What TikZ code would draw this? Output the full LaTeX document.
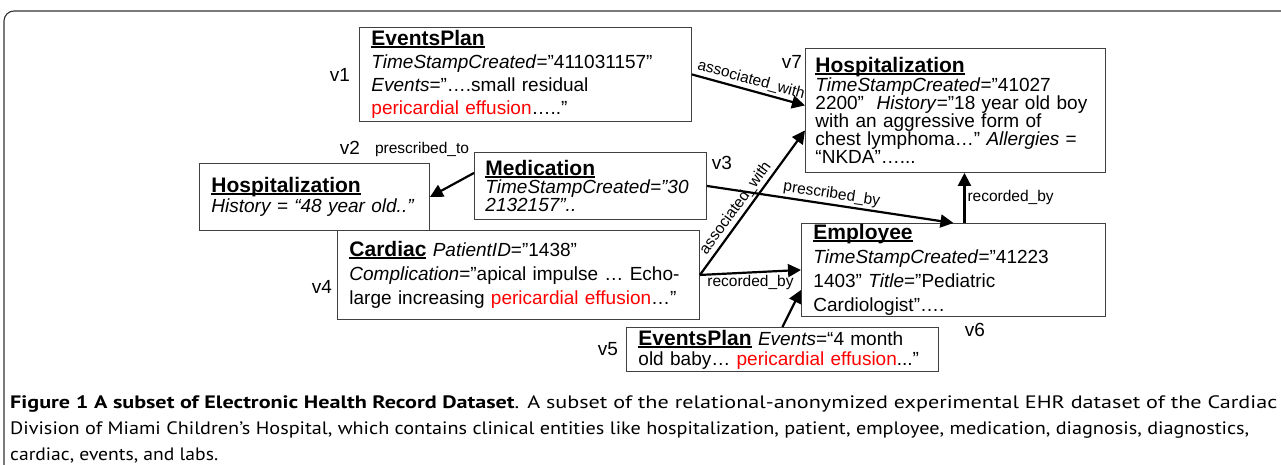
\documentclass[tikz,border=0pt]{standalone}
\usepackage{fontspec}
\usepackage{graphicx}
\setmainfont{Liberation Sans}
\newfontfamily\capfont{PT Sans}
\usetikzlibrary{arrows.meta}
% entity title, bold with a heavy rule under it
\newcommand{\hd}[1]{\setbox0=\hbox{\fontsize{21}{24}\selectfont\bfseries #1}\rlap{\rule[-2.6pt]{\wd0}{1.8pt}}\box0\relax}
\newcommand{\rd}[1]{\textcolor{red}{#1}}

\begin{document}
\begin{tikzpicture}
[x=1pt,y=-1pt
,ent/.style={draw=black!75,line width=0.9pt,anchor=north west,inner xsep=12pt,inner ysep=0pt,align=left,font=\fontsize{19}{#1}\selectfont}
,vl/.style={font=\fontsize{19}{22}\selectfont,inner sep=0pt}
,ae/.style={draw=black,line width=2.2pt,arrows={-Triangle[length=13pt,width=13pt]}}
,el/.style={font=\fontsize{15.5}{18}\selectfont,inner sep=2pt}
,frm/.style={draw=black!80,line width=1.1pt,rounded corners=10pt}]
\useasboundingbox (0,0) rectangle (1281,465);
\draw[frm] (4,465) -- (4,11) -- (1281,11);

% entities
\node[ent=23,text width=308pt,minimum height=94pt] (v1) at (359,27)
  {\hd{EventsPlan}\\
   \textit{TimeStampCreated}=”411031157"\\
   \textit{Events}=”….small residual\\
   \rd{pericardial effusion}…..”};
\node[ent=18,text width=280pt,minimum height=124pt,inner xsep=10pt] (v7) at (805,48)
  {\hd{Hospitalization}\\
   \textit{TimeStampCreated}=”41027\\
   2200"\ \ \textit{History}=”18 year old boy\\
   with an aggressive form of\\
   chest lymphoma…” \textit{Allergies} =\\
   “NKDA”…...\par\vspace{8pt}};
\node[ent=20,text width=206pt,minimum height=67pt] (v2) at (199,163)
  {\hd{Hospitalization}\\
   \textit{History = “48 year old..”}};
\node[ent=18,text width=210pt,minimum height=67pt,inner xsep=11pt] (v3) at (474,152)
  {\hd{Medication}\\
   \textit{TimeStampCreated=”30}\\
   \textit{2132157"..}};
\node[ent=24,text width=338pt,minimum height=89pt] (v4) at (337,230)
  {\hd{Cardiac} \textit{PatientID}=”1438"\\
   \textit{Complication}=”apical impulse … Echo-\\
   large increasing \rd{pericardial effusion}…”};
\node[ent=24,text width=280pt,minimum height=93pt] (v6) at (801,223)
  {\hd{Employee}\\
   \textit{TimeStampCreated}=”41223\\
   1403" \textit{Title}=”Pediatric\\
   Cardiologist”….};
\node[ent=20,text width=288pt,minimum height=44pt] (v5) at (626,327)
  {\hd{EventsPlan} \textit{Events}=“4 month\\
   old baby… \rd{pericardial effusion}...”};

% vertex names
\node[vl] (n1) at (340,75) {v1};
\node[vl] (n2) at (350,148) {v2};
\node[vl] (n3) at (722,163) {v3};
\node[vl] (n4) at (322,287) {v4};
\node[vl] (n5) at (608,349) {v5};
\node[vl] (n6) at (975,330) {v6};
\node[vl] (n7) at (792,62) {v7};
\node[el] (pto) at (422,149) {prescribed\_to};

% relations
\draw[ae] (v1.east) -- node[el,above,sloped] {associated\_with} ([yshift=5pt]v7.west);
\draw[ae] ([yshift=13pt]v3.west) -- (v2.east);
\draw[ae] (v3.east) -- node[el,above,sloped] {prescribed\_by} (v6.north);
\draw[ae] (v4.east) -- node[el,above,sloped,pos=0.42] {associated\_with} ([yshift=-20pt]v7.west);
\draw[ae] (v4.east) -- node[el,below] {recorded\_by} (v6.west);
\draw[ae] (v5.north) -- ([yshift=-20pt]v6.west);
\draw[ae] ([xshift=11pt]v6.north) -- node[el,right] {recorded\_by} ([xshift=11pt]v6.north |- v7.south);

% caption
\node[anchor=north west,inner sep=0pt] (cap) at (10,390)
  {\capfont\fontsize{18}{26}\selectfont
   \begin{tabular}{@{}l@{}}
   \resizebox{1267pt}{\height}{\textbf{Figure 1 A subset of Electronic Health Record Dataset}. A subset of the relational-anonymized experimental EHR dataset of the Cardiac}\\
   \resizebox{1239pt}{\height}{Division of Miami Children’s Hospital, which contains clinical entities like hospitalization, patient, employee, medication, diagnosis, diagnostics,}\\
   \resizebox{208pt}{\height}{cardiac, events, and labs.}
   \end{tabular}};
\end{tikzpicture}
\end{document}
